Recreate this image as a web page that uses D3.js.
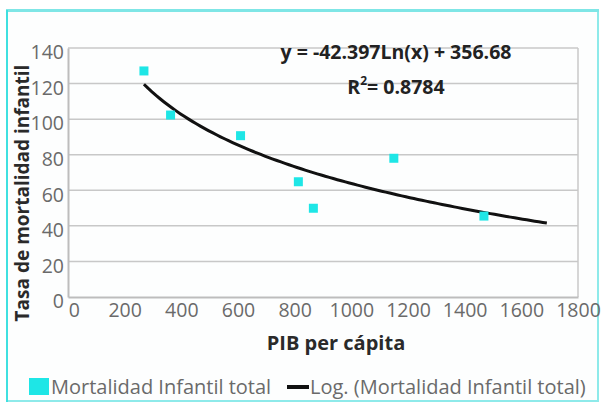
<!DOCTYPE html>
<html><head><meta charset="utf-8">
<script src="https://cdn.jsdelivr.net/npm/d3@7"></script>
<style>
html,body{margin:0;padding:0;background:#fff;}
svg{display:block;}
</style></head>
<body>
<svg id="chart" width="601" height="402"></svg>
<script>
// Data
const gdp = [268, 362, 609, 813, 866, 1150, 1468];
const mortality = [127.1, 102.3, 90.7, 64.8, 49.9, 78.0, 45.5];
const trendRange = [268, 1690];
const trendCoef = [-42.397, 356.68];
const xTicks = [0, 200, 400, 600, 800, 1000, 1200, 1400, 1600, 1800];
const yTicks = [0, 20, 40, 60, 80, 100, 120, 140];
const xTitle = "PIB per cápita";
const yTitle = "Tasa de mortalidad infantil";
const eqText = "y = -42.397Ln(x) + 356.68";
const r2Value = "0.8784";
const legendLabels = ["Mortalidad Infantil total", "Log. (Mortalidad Infantil total)"];

const svg = d3.select("#chart");
const font = "'Open Sans', 'Noto Sans', sans-serif";
const cyan = "#1ee6e6";

// outer frame
svg.append("rect").attr("x",0).attr("y",0).attr("width",601).attr("height",402).attr("fill","#fff");
svg.append("rect").attr("x",7).attr("y",11).attr("width",591).attr("height",390)
  .attr("fill","#fdfefe").attr("stroke","#8eeaea").attr("stroke-width",2);
svg.append("line").attr("x1",6).attr("x2",599).attr("y1",10.5).attr("y2",10.5)
  .attr("stroke","#7fe6e6").attr("stroke-width",3);
svg.append("line").attr("x1",7).attr("x2",7).attr("y1",10).attr("y2",402)
  .attr("stroke","#3fe0e0").attr("stroke-width",2);

const x = d3.scaleLinear().domain([0,1800]).range([68,578]);
const y = d3.scaleLinear().domain([0,140]).range([297,48]);

// gridlines
svg.append("g").selectAll("line").data(yTicks.filter(d=>d>0)).join("line")
  .attr("x1",x(0)).attr("x2",x(1800)).attr("y1",d=>y(d)).attr("y2",d=>y(d))
  .attr("stroke","#c8c8c8").attr("stroke-width",1.5);
// plot border
svg.append("line").attr("x1",x(1800)).attr("x2",x(1800)).attr("y1",y(140)).attr("y2",y(0))
  .attr("stroke","#c8c8c8").attr("stroke-width",1.5);

// axes
const xAxis = svg.append("g").attr("transform",`translate(0,${y(0)})`)
  .call(d3.axisBottom(x).tickValues(xTicks).tickSize(0).tickPadding(6).tickFormat(d3.format("d")));
const yAxis = svg.append("g").attr("transform",`translate(${x(0)},0)`)
  .call(d3.axisLeft(y).tickValues(yTicks).tickSize(0).tickPadding(4).tickFormat(d3.format("d")));
[xAxis,yAxis].forEach(a=>{
  a.select(".domain").attr("stroke","#bdbdbd").attr("stroke-width",2);
  a.selectAll("text").attr("font-family",font).attr("font-size",19.5).attr("fill","#6a6a6a");
});
yAxis.selectAll("text").attr("dy","0.55em");
xAxis.selectAll("text").attr("dx",d=>d===0?"0.3em":"0");

// trend line
const tx = d3.range(0,101).map(i=>trendRange[0]+(trendRange[1]-trendRange[0])*i/100);
const line = d3.line().x(d=>x(d)).y(d=>y(trendCoef[0]*Math.log(d)+trendCoef[1])).curve(d3.curveLinear);
svg.append("path").datum(tx).attr("d",line).attr("fill","none")
  .attr("stroke","#111").attr("stroke-width",3);

// points
const ms = 9;
svg.append("g").selectAll("rect").data(gdp.map((g,i)=>[g,mortality[i]])).join("rect")
  .attr("x",d=>x(d[0])-ms/2).attr("y",d=>y(d[1])-ms/2).attr("width",ms).attr("height",ms)
  .attr("fill",cyan);

// equation
svg.append("text").attr("x",396).attr("y",59).attr("text-anchor","middle")
  .attr("font-family",font).attr("font-size",19.5).attr("font-weight","bold").attr("fill","#222")
  .text(eqText);
const r2 = svg.append("text").attr("x",396).attr("y",94).attr("text-anchor","middle")
  .attr("font-family",font).attr("font-size",19.5).attr("font-weight","bold").attr("fill","#222");
r2.append("tspan").text("R");
r2.append("tspan").attr("font-size",12).attr("dy",-9).text("2");
r2.append("tspan").attr("dy",9).text("= "+r2Value);

// axis titles
svg.append("text").attr("x",336).attr("y",350).attr("text-anchor","middle")
  .attr("font-family",font).attr("font-size",20).attr("font-weight","bold").attr("fill","#2a2a2a")
  .text(xTitle);
svg.append("text").attr("transform","translate(29,193) rotate(-90)").attr("text-anchor","middle")
  .attr("font-family",font).attr("font-size",19).attr("font-weight","bold").attr("fill","#2a2a2a")
  .text(yTitle);

// legend
svg.append("rect").attr("x",29).attr("y",378).attr("width",20).attr("height",17).attr("fill",cyan);
svg.append("text").attr("x",51).attr("y",394).attr("font-family",font).attr("font-size",20)
  .attr("fill","#6a6a6a").text(legendLabels[0]);
svg.append("line").attr("x1",287).attr("x2",309).attr("y1",387).attr("y2",387)
  .attr("stroke","#111").attr("stroke-width",4);
svg.append("text").attr("x",310).attr("y",394).attr("font-family",font).attr("font-size",20)
  .attr("fill","#6a6a6a").text(legendLabels[1]);
</script>
</body></html>
